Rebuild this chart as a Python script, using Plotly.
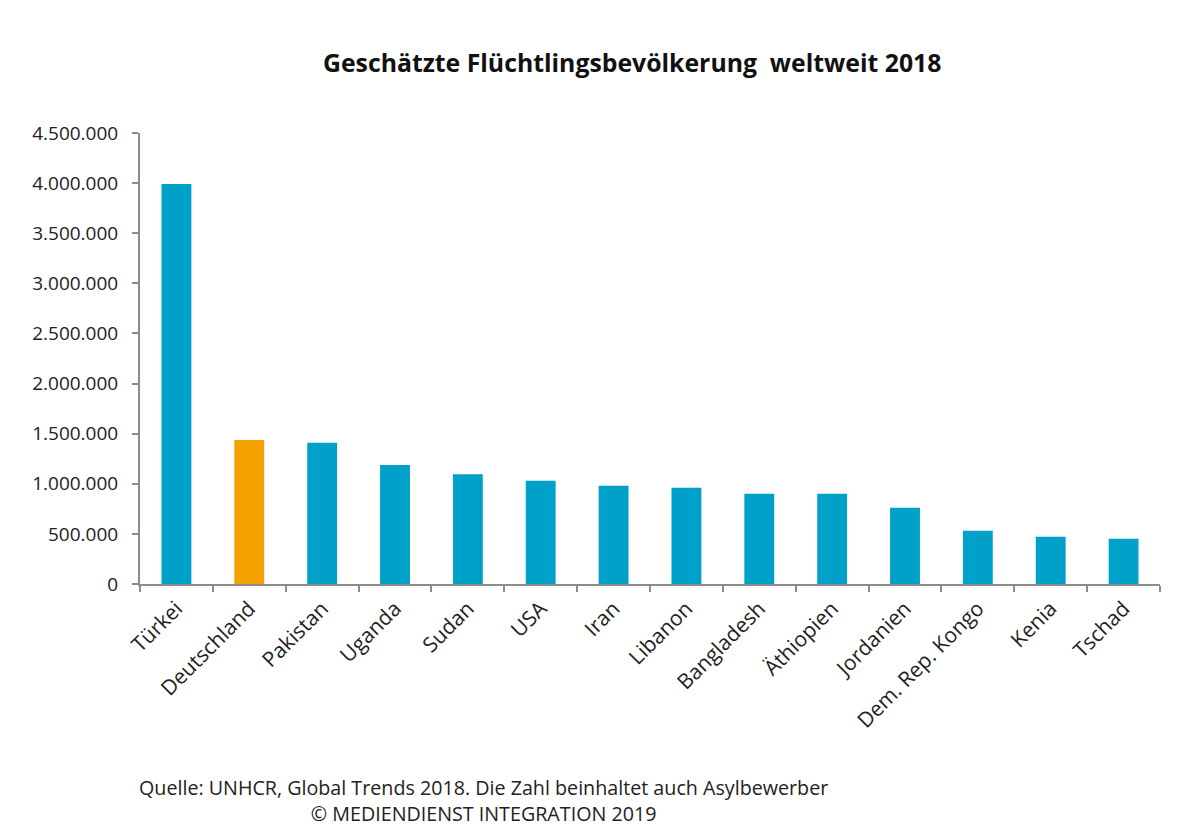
import plotly.graph_objects as go

countries = ["Türkei", "Deutschland", "Pakistan", "Uganda", "Sudan", "USA", "Iran",
             "Libanon", "Bangladesh", "Äthiopien", "Jordanien", "Dem. Rep. Kongo",
             "Kenia", "Tschad"]
refugees = [3990000, 1437000, 1410000, 1188000, 1095000, 1031000, 981000,
            961000, 901000, 901000, 761000, 532000, 472000, 452000]
highlight = "Deutschland"

BLUE = "#00A1C9"
ORANGE = "#F5A200"
colors = [ORANGE if c == highlight else BLUE for c in countries]

fig = go.Figure(go.Bar(x=countries, y=refugees, marker_color=colors,
                       marker_line_width=0))

FONT = "Open Sans"
fig.update_layout(
    width=1200, height=829,
    margin=dict(l=140, r=40, t=133, b=245),
    plot_bgcolor="white", paper_bgcolor="white",
    separators=",.",
    bargap=0.59,
    font=dict(family=FONT, size=19, color="#222222"),
    showlegend=False,
)
fig.update_yaxes(range=[0, 4500000], dtick=500000, tickformat=",d",
                 showgrid=False, zeroline=False,
                 showline=True, linecolor="#8c8c8c", linewidth=2,
                 ticks="outside", ticklen=6, tickcolor="#8c8c8c", tickwidth=1.5,
                 ticklabelstandoff=10,
                 tickfont=dict(family=FONT, size=19, color="#222222"))
fig.update_xaxes(showgrid=False, showline=True, linecolor="#8c8c8c", linewidth=2,
                 ticks="outside", ticklen=6, tickcolor="#8c8c8c", tickwidth=1.5,
                 tickson="boundaries", tickangle=-45, ticklabelstandoff=2,
                 tickfont=dict(family=FONT, size=21, color="#222222"))

fig.add_annotation(text="<b>Geschätzte Flüchtlingsbevölkerung  weltweit 2018</b>",
                   xref="paper", yref="paper", x=(632 - 140) / 1020, y=1 + (133 - 62) / 451,
                   showarrow=False, xanchor="center", yanchor="middle",
                   font=dict(family=FONT, size=24.8, color="#111111"))
fig.add_annotation(text="Quelle: UNHCR, Global Trends 2018. Die Zahl beinhaltet auch Asylbewerber<br>© MEDIENDIENST INTEGRATION 2019",
                   xref="paper", yref="paper", x=(483 - 140) / 1020, y=-(800 - 584) / 451,
                   showarrow=False, xanchor="center", yanchor="middle", align="center",
                   font=dict(family=FONT, size=19.7, color="#222222"))

fig.write_html("out.html")
